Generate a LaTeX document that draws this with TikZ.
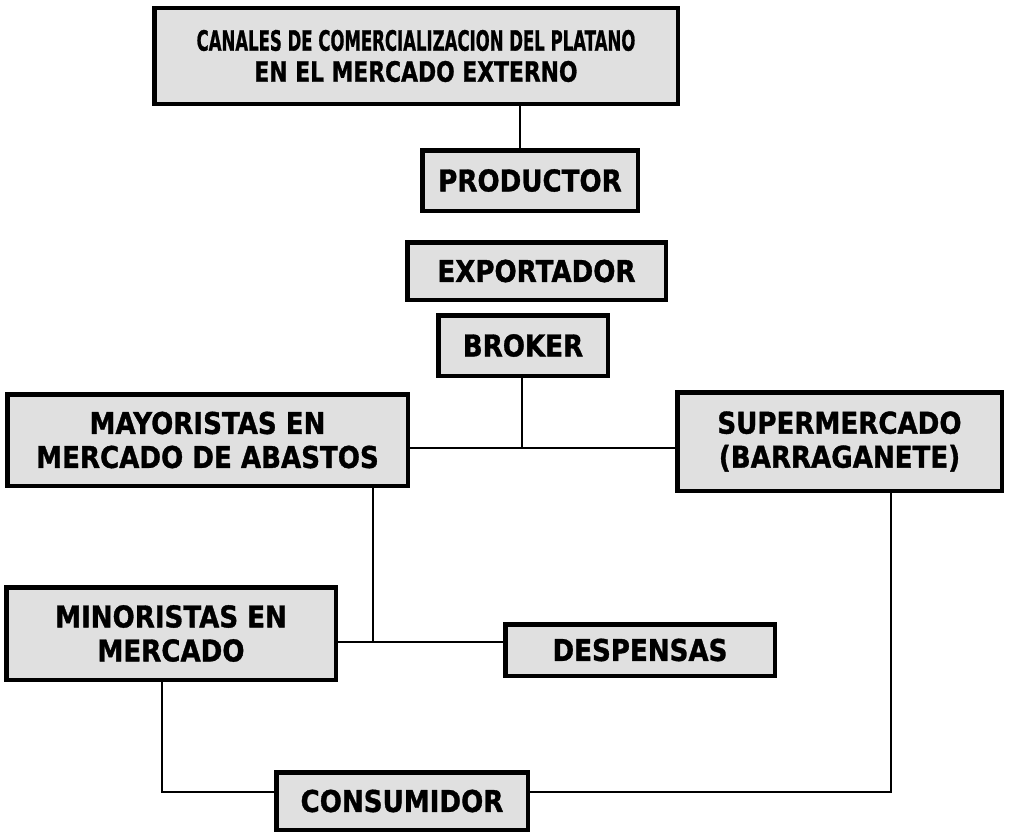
\documentclass[tikz,border=0pt]{standalone}
\usepackage{fontspec}
\setmainfont{DejaVu Sans}[BoldFeatures={FakeBold=1.2}]
\usepackage{graphicx}
\newcommand{\sq}[1]{\scalebox{0.87}[1]{#1}}
\begin{document}
\begin{tikzpicture}[x=1pt,y=-1pt,
  box/.style={draw=black, line width=4.5pt, fill=black!12, inner sep=0pt, align=center,
    font=\bfseries\fontsize{30}{34}\selectfont},
  conn/.style={draw=black, line width=1.5pt}]
\useasboundingbox (0,0) rectangle (1012,833);
\node[box, minimum width=523.5pt, minimum height=96pt, font=\bfseries\fontsize{28}{31}\selectfont] (title) at (416,56)
  {\scalebox{0.59}[1]{CANALES DE COMERCIALIZACION DEL PLATANO}\\\scalebox{0.78}[1]{EN EL MERCADO EXTERNO}};
\node[box, minimum width=215.5pt, minimum height=60.5pt] (prod) at (530,180.5) {\sq{PRODUCTOR}};
\node[box, minimum width=258.5pt, minimum height=57.5pt] (expo) at (536.5,271) {\sq{EXPORTADOR}};
\node[box, minimum width=169.5pt, minimum height=60.5pt] (broker) at (523,345.5) {\sq{BROKER}};
\node[box, minimum width=400.5pt, minimum height=91.5pt] (mayo) at (207.5,440) {\sq{MAYORISTAS EN}\\\sq{MERCADO DE ABASTOS}};
\node[box, minimum width=324.5pt, minimum height=98.5pt] (super) at (839.5,441.5) {\sq{SUPERMERCADO}\\\sq{(BARRAGANETE)}};
\node[box, minimum width=329.5pt, minimum height=92.5pt] (mino) at (171,633.5) {\sq{MINORISTAS EN}\\\sq{MERCADO}};
\node[box, minimum width=269.5pt, minimum height=51.5pt] (desp) at (640,650) {\sq{DESPENSAS}};
\node[box, minimum width=251.5pt, minimum height=57.5pt] (cons) at (402,801) {\sq{CONSUMIDOR}};
\coordinate (j0) at (520,120);
\coordinate (j1) at (522,448);
\coordinate (j2) at (373,642);
\coordinate (j3) at (162,792);
\coordinate (j4) at (891,792);
\draw[conn] (title.south -| j0) -- (prod.north -| j0);
\draw[conn] (broker.south -| j1) -- (j1);
\draw[conn] (j1 -| mayo.east) -- (j1 -| super.west);
\draw[conn] (mayo.south -| j2) -- (j2);
\draw[conn] (j2 -| mino.east) -- (j2 -| desp.west);
\draw[conn] (mino.south -| j3) -- (j3) -- (j3 -| cons.west);
\draw[conn] (super.south -| j4) -- (j4) -- (j4 -| cons.east);
\end{tikzpicture}
\end{document}
